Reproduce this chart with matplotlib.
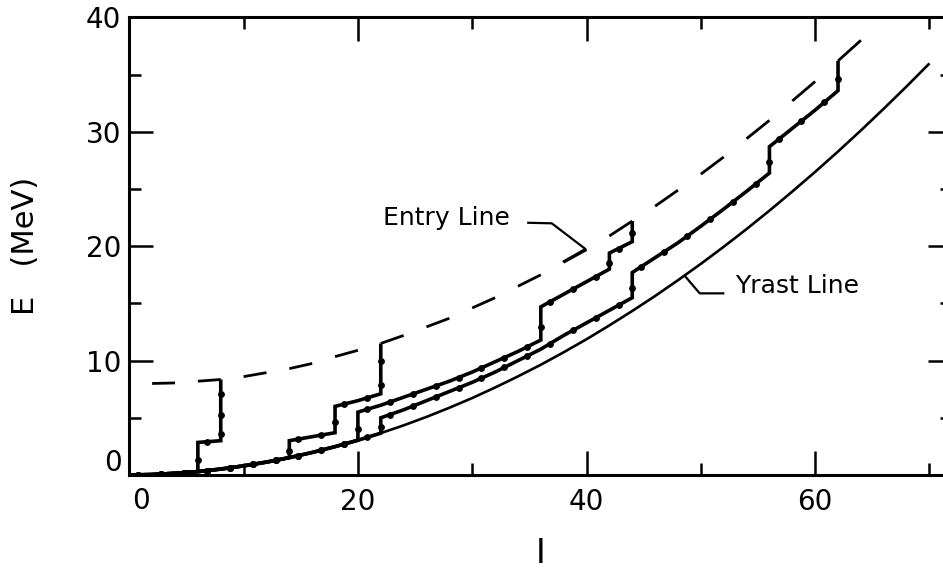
import numpy as np
import matplotlib
matplotlib.use("Agg")
import matplotlib.pyplot as plt
from matplotlib.ticker import MultipleLocator

# ---- data -------------------------------------------------------------
# yrast line: energy (MeV) of the lowest state at each even spin
yrast_I = [0, 2, 4, 6, 8, 10, 12, 14, 16, 18, 20, 22, 24, 26, 28, 30, 32, 34,
           36, 38, 40, 42, 44, 46, 48, 50, 52, 54, 56, 58, 60, 62, 64, 66, 68, 70]
yrast_E = [0.00, 0.04, 0.15, 0.30, 0.52, 0.80, 1.13, 1.52, 1.97, 2.48, 3.04,
           3.66, 4.34, 5.08, 5.88, 6.73, 7.65, 8.62, 9.64, 10.73, 11.87, 13.08,
           14.34, 15.65, 17.03, 18.46, 19.95, 21.50, 23.11, 24.78, 26.50, 28.28,
           30.12, 32.02, 33.97, 35.98]

# entry line, sampled at the ends of each dash
entry_I = [2, 4, 6, 8, 10, 12, 14, 16, 18, 20, 22, 24, 26, 28, 30, 32,
           34, 36, 38, 40, 42, 44, 46, 48, 50, 52, 54, 56, 58, 60, 62, 64]
entry_E = [8.00, 8.05, 8.20, 8.35, 8.60, 8.95, 9.30, 9.75, 10.35, 10.90, 11.50,
           12.20, 12.95, 13.70, 14.60, 15.50, 16.50, 17.50, 18.60, 19.70, 20.90,
           22.20, 23.50, 24.90, 26.30, 27.80, 29.40, 31.00, 32.70, 34.40, 36.20,
           38.00]

# gamma cascades: states from the entry point down to the yrast line
casc1_I = [8, 8, 8, 8, 6]
casc1_E = [8.35, 6.30, 4.50, 3.00, 2.85]
casc1_land = 6

casc2_I = [22, 22, 22, 20, 18, 18, 16, 14]
casc2_E = [11.50, 9.00, 7.10, 6.50, 6.00, 3.70, 3.35, 3.00]
casc2_land = 14

casc3_I = [44, 44, 42, 42, 40, 38, 36, 36, 34, 32, 30, 28, 26, 24, 22, 20]
casc3_E = [22.20, 20.40, 19.40, 18.00, 16.90, 15.80, 14.70, 11.80, 10.80,
           9.90, 9.00, 8.20, 7.50, 6.80, 6.10, 5.50]
casc3_land = 20

casc4_I = [62, 62, 60, 58, 56, 56, 54, 52, 50, 48, 46, 44, 44, 42, 40, 38,
           36, 34, 32, 30, 28, 26, 24, 22]
casc4_E = [36.20, 33.60, 31.90, 30.30, 28.70, 26.40, 24.80, 23.25, 21.75,
           20.30, 19.00, 17.70, 15.50, 14.40, 13.30, 12.20, 11.00, 10.00,
           9.00, 8.10, 7.30, 6.50, 5.70, 5.00]
casc4_land = 22

cascades = [(casc1_I, casc1_E, casc1_land),
            (casc2_I, casc2_E, casc2_land),
            (casc3_I, casc3_E, casc3_land),
            (casc4_I, casc4_E, casc4_land)]

# label leaders
entry_label = "Entry Line"
entry_leader_I = [34.9, 36.96, 39.9, 38.0]
entry_leader_E = [22.05, 22.0, 19.76, 18.68]
yrast_label = "Yrast Line"
yrast_leader_I = [48.6, 49.9, 51.96]
yrast_leader_E = [17.40, 15.88, 15.88]

xticks = [0, 20, 40, 60]
yticks = [0, 10, 20, 30, 40]

# ---- figure -----------------------------------------------------------
fig = plt.figure(figsize=(9.43, 5.71), dpi=100)
ax = fig.add_axes([0.1371, 0.1681, 0.8728, 0.8014])
ax.set_xlim(0, 72)
ax.set_ylim(0, 40)

ink = "black"

# yrast line (thin)
ax.plot(yrast_I, yrast_E, color=ink, lw=1.9, solid_capstyle="butt", zorder=2)

# cascades (thick, with an arrowhead on every transition)
yr_I = np.array(yrast_I)
yr_E = np.array(yrast_E)
for cI, cE, land in cascades:
    below = yr_I <= land
    path_I = np.concatenate([cI, yr_I[below][::-1]])
    path_E = np.concatenate([cE, yr_E[below][::-1]])
    ax.plot(path_I, path_E, color=ink, lw=2.6, solid_joinstyle="miter",
            solid_capstyle="butt", zorder=3)
    frac = 0.6
    mI = path_I[:-1] + frac * np.diff(path_I)
    mE = path_E[:-1] + frac * np.diff(path_E)
    ax.plot(mI, mE, ls="none", marker="o", ms=3.9, color=ink, zorder=4)

# entry line drawn dash by dash
for k in range(0, len(entry_I), 2):
    ax.plot(entry_I[k:k + 2], entry_E[k:k + 2], color=ink, lw=2.0,
            solid_capstyle="butt", zorder=3)

# labels and leaders
ax.text(22.2, 21.85, entry_label, fontsize=18, ha="left", va="baseline")
ax.plot(entry_leader_I, entry_leader_E, color=ink, lw=1.6, zorder=3)
ax.text(53.0, 15.87, yrast_label, fontsize=18, ha="left", va="baseline")
ax.plot(yrast_leader_I, yrast_leader_E, color=ink, lw=1.6, zorder=3)

# axes styling
for sp in ax.spines.values():
    sp.set_linewidth(2.2)
ax.set_xticks(xticks)
ax.set_xticklabels([""] + [str(v) for v in xticks[1:]])
ax.set_yticks(yticks)
ax.set_yticklabels([""] + [str(v) for v in yticks[1:]])
ax.xaxis.set_minor_locator(MultipleLocator(10))
ax.yaxis.set_minor_locator(MultipleLocator(5))
ax.tick_params(which="major", direction="in", length=17, width=1.8,
               top=True, right=True, labelsize=20)
ax.tick_params(which="minor", direction="in", length=8.5, width=1.8,
               top=True, right=True)
ax.tick_params(axis="x", pad=9)
ax.tick_params(axis="y", pad=6)

# the two zero labels sit just off the corner
ax.annotate(str(xticks[0]), xy=(xticks[0], 0), xycoords="data",
            xytext=(8.6, -18.5), textcoords="offset points",
            ha="center", va="center", fontsize=20, annotation_clip=False)
ax.annotate(str(yticks[0]), xy=(0, yticks[0]), xycoords="data",
            xytext=(-5.5, 8.6), textcoords="offset points",
            ha="right", va="center", fontsize=20, annotation_clip=False)

ax.set_xlabel("I", fontsize=24, va="top")
ax.xaxis.set_label_coords(0.5, -0.135)
ax.set_ylabel("E   (MeV)", fontsize=22, va="center")
ax.yaxis.set_label_coords(-0.1267, 0.5)

fig.savefig("out.png", dpi=100)
